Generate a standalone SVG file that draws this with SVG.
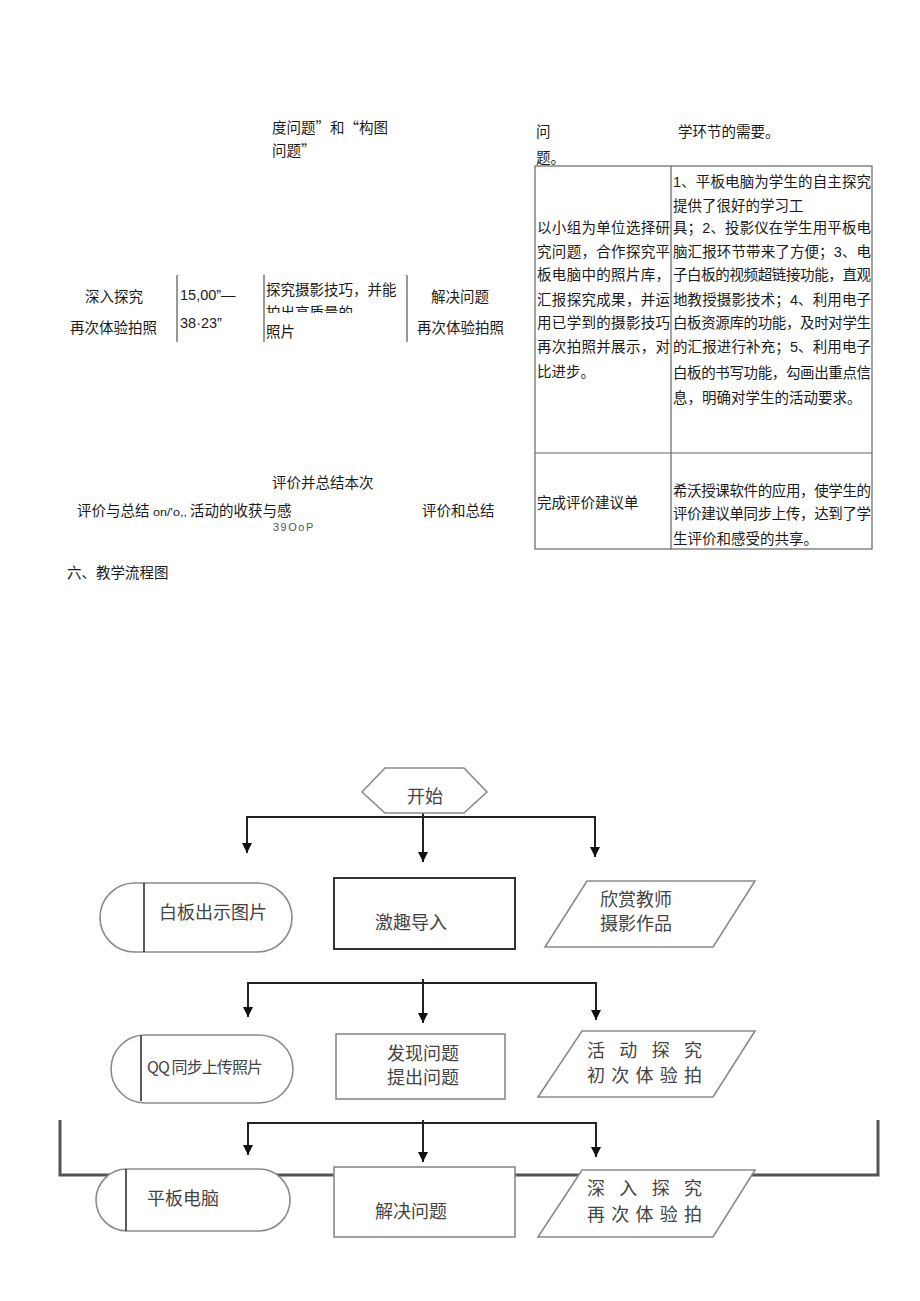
<svg xmlns="http://www.w3.org/2000/svg" width="920" height="1301" viewBox="0 0 920 1301">
<style>
.t{font-family:"Liberation Sans","Noto Sans CJK SC",sans-serif;font-size:14.5px;fill:#1a1a1a}
.c{font-family:"Noto Sans CJK SC",sans-serif}
.f{font-family:"Noto Sans CJK SC",sans-serif;font-size:18px;fill:#444}
.tl{stroke:#666;stroke-width:1.2;fill:none}
.vl{stroke:#555;stroke-width:1.2}
.sh{fill:#fff;stroke:#8a8a8a;stroke-width:1.6}
.cn{stroke:#222;stroke-width:2;fill:none}
.fr{stroke:#555;stroke-width:3;fill:none}
</style>
<defs>
<marker id="ah" markerUnits="userSpaceOnUse" markerWidth="10" markerHeight="12" refX="10" refY="5" orient="auto" viewBox="0 0 10 10">
<path d="M0,0 L10,5 L0,10 z" fill="#111"/>
</marker>
<clipPath id="clipHalf"><rect x="260" y="300" width="150" height="13"/></clipPath>
</defs>
<rect width="920" height="1301" fill="#fff"/>

<g id="upper-left-text">
<text class="t c" x="272" y="133">度问题”和“构图</text>
<text class="t c" x="272" y="156">问题”</text>
<text class="t" x="85" y="302">深入探究</text>
<text class="t" x="70" y="333">再次体验拍照</text>
<line class="vl" x1="177" y1="275" x2="177" y2="342"/>
<text class="t" x="180" y="300">15,00”—</text>
<text class="t" x="180" y="328">38·23”</text>
<line class="vl" x1="264" y1="275" x2="264" y2="342"/>
<text class="t" x="266" y="295">探究摄影技巧，并能</text>
<text class="t" x="266" y="318" clip-path="url(#clipHalf)">拍出高质量的</text>
<text class="t" x="266" y="337">照片</text>
<line class="vl" x1="407" y1="275" x2="407" y2="342"/>
<text class="t" x="431" y="302">解决问题</text>
<text class="t" x="417" y="333">再次体验拍照</text>
<text class="t" x="272" y="488">评价并总结本次</text>
<text class="t" x="77" y="516">评价与总结</text>
<text class="t" x="153" y="516" style="font-size:10px" textLength="34" lengthAdjust="spacingAndGlyphs">on/'o,,</text>
<text class="t" x="190" y="516">活动的收获与感</text>
<text class="t" x="273" y="531" style="font-size:11px;fill:#555;letter-spacing:1.5px">39OoP</text>
<text class="t" x="422" y="516">评价和总结</text>
<text class="t" x="67" y="578">六、教学流程图</text>
</g>

<g id="upper-right-table">
<text class="t" x="536" y="137">问</text>
<text class="t" x="678" y="137">学环节的需要。</text>
<text class="t" x="536" y="163">题。</text>
<rect class="tl" x="535" y="166" width="337" height="383"/>
<line class="tl" x1="671" y1="166" x2="671" y2="549"/>
<line class="tl" x1="535" y1="453" x2="872" y2="453"/>
<text class="t" x="537" y="233" textLength="133" lengthAdjust="spacing">以小组为单位选择研</text>
<text class="t" x="537" y="257" textLength="133" lengthAdjust="spacing">究问题，合作探究平</text>
<text class="t" x="537" y="280" textLength="133" lengthAdjust="spacing">板电脑中的照片库，</text>
<text class="t" x="537" y="305" textLength="133" lengthAdjust="spacing">汇报探究成果，并运</text>
<text class="t" x="537" y="328" textLength="133" lengthAdjust="spacing">用已学到的摄影技巧</text>
<text class="t" x="537" y="352" textLength="133" lengthAdjust="spacing">再次拍照并展示，对</text>
<text class="t" x="537" y="377">比进步。</text>
<text class="t" x="673" y="187" textLength="198" lengthAdjust="spacing">1、平板电脑为学生的自主探究</text>
<text class="t" x="673" y="211">提供了很好的学习工</text>
<text class="t" x="673" y="233" textLength="198" lengthAdjust="spacing">具；2、投影仪在学生用平板电</text>
<text class="t" x="673" y="257" textLength="198" lengthAdjust="spacing">脑汇报环节带来了方便；3、电</text>
<text class="t" x="673" y="280" textLength="198" lengthAdjust="spacing">子白板的视频超链接功能，直观</text>
<text class="t" x="673" y="305" textLength="198" lengthAdjust="spacing">地教授摄影技术；4、利用电子</text>
<text class="t" x="673" y="328" textLength="198" lengthAdjust="spacing">白板资源库的功能，及时对学生</text>
<text class="t" x="673" y="352" textLength="198" lengthAdjust="spacing">的汇报进行补充；5、利用电子</text>
<text class="t" x="673" y="378" textLength="198" lengthAdjust="spacing">白板的书写功能，勾画出重点信</text>
<text class="t" x="673" y="403">息，明确对学生的活动要求。</text>
<text class="t" x="537" y="508">完成评价建议单</text>
<text class="t" x="673" y="496" textLength="198" lengthAdjust="spacing">希沃授课软件的应用，使学生的</text>
<text class="t" x="673" y="519" textLength="198" lengthAdjust="spacing">评价建议单同步上传，达到了学</text>
<text class="t" x="673" y="544">生评价和感受的共享。</text>
</g>

<g id="connectors">
<polyline class="fr" points="60,1120 60,1175 878,1175 878,1120"/>
<line class="cn" x1="247" y1="817" x2="595" y2="817"/>
<line class="cn" x1="247" y1="816" x2="247" y2="853" marker-end="url(#ah)"/>
<line class="cn" x1="423" y1="813" x2="423" y2="862" marker-end="url(#ah)"/>
<line class="cn" x1="595" y1="816" x2="595" y2="857" marker-end="url(#ah)"/>
<line class="cn" x1="248" y1="983" x2="596" y2="983"/>
<line class="cn" x1="248" y1="982" x2="248" y2="1017" marker-end="url(#ah)"/>
<line class="cn" x1="423" y1="979" x2="423" y2="1023" marker-end="url(#ah)"/>
<line class="cn" x1="596" y1="982" x2="596" y2="1020" marker-end="url(#ah)"/>
<line class="cn" x1="248" y1="1123" x2="596" y2="1123"/>
<line class="cn" x1="248" y1="1122" x2="248" y2="1155" marker-end="url(#ah)"/>
<line class="cn" x1="423" y1="1120" x2="423" y2="1162" marker-end="url(#ah)"/>
<line class="cn" x1="596" y1="1122" x2="596" y2="1157" marker-end="url(#ah)"/>
</g>

<g id="start">
<polygon class="sh" points="362,792 385,768 464,768 487,792 464,813 385,813"/>
<text class="f" x="425" y="803" text-anchor="middle">开始</text>
</g>

<g id="n-whiteboard">
<rect class="sh" x="100" y="883" width="192" height="69" rx="34.5"/>
<line x1="144" y1="883" x2="144" y2="952" stroke="#333" stroke-width="1.6"/>
<text class="f" x="159" y="919">白板出示图片</text>
</g>
<g id="n-intro">
<rect x="334" y="878" width="181" height="71" fill="#fff" stroke="#333" stroke-width="2"/>
<text class="f" x="375" y="929">激趣导入</text>
</g>
<g id="n-appreciate">
<polygon class="sh" points="587,881 755,881 713,947 545,947"/>
<text class="f" x="600" y="906">欣赏教师</text>
<text class="f" x="600" y="930">摄影作品</text>
</g>

<g id="n-qq">
<rect class="sh" x="111" y="1035" width="182" height="68" rx="34"/>
<line x1="141" y1="1035" x2="141" y2="1101" stroke="#333" stroke-width="1.6"/>
<text class="f" x="147" y="1073" style="font-size:16px" textLength="116" lengthAdjust="spacing">QQ 同步上传照片</text>
</g>
<g id="n-discover">
<rect class="sh" x="336" y="1034" width="169" height="65"/>
<text class="f" x="423" y="1060" text-anchor="middle">发现问题</text>
<text class="f" x="423" y="1084" text-anchor="middle">提出问题</text>
</g>
<g id="n-activity1">
<polygon class="sh" points="582,1031 755,1031 713,1097 538,1097"/>
<text class="f" x="587" y="1057" textLength="115" lengthAdjust="spacing">活 动 探 究</text>
<text class="f" x="587" y="1082" textLength="115" lengthAdjust="spacing">初 次 体 验 拍</text>
</g>

<g id="n-tablet">
<rect class="sh" x="96" y="1169" width="194" height="62" rx="31"/>
<line x1="126" y1="1169" x2="126" y2="1231" stroke="#333" stroke-width="1.6"/>
<text class="f" x="147" y="1205">平板电脑</text>
</g>
<g id="n-solve">
<rect class="sh" x="334" y="1167" width="181" height="70"/>
<text class="f" x="375" y="1218">解决问题</text>
</g>
<g id="n-activity2">
<polygon class="sh" points="582,1170 755,1170 713,1237 538,1237"/>
<text class="f" x="587" y="1195" textLength="115" lengthAdjust="spacing">深 入 探 究</text>
<text class="f" x="587" y="1221" textLength="115" lengthAdjust="spacing">再 次 体 验 拍</text>
</g>
</svg>
